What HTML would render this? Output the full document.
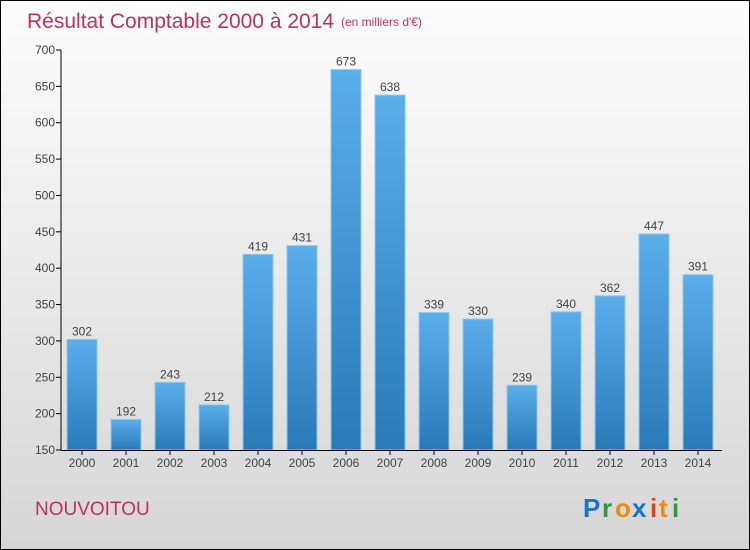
<!DOCTYPE html>
<html><head><meta charset="utf-8"><style>
body{margin:0}
#c{width:748px;height:548px;border:1px solid #000;position:relative;background:linear-gradient(#fdfdfd,#d6d6d6);font-family:"Liberation Sans",sans-serif;overflow:hidden}
</style></head><body>
<div id="c">
<svg width="748" height="548" id="svg">
<defs><linearGradient id="bg" x1="0" x2="0" y1="0" y2="1"><stop offset="0" stop-color="#5aaeea"/><stop offset="1" stop-color="#2a7ab8"/></linearGradient></defs>
<text x="26" y="27" font-size="21" fill="#c0305e">Résultat Comptable 2000 à 2014</text>
<text x="340" y="25" font-size="12" fill="#c0305e">(en milliers d'€)</text>
<text x="34" y="514" font-size="19" fill="#c0305e">NOUVOITOU</text>
<g font-size="26" font-weight="bold">
<text x="582" y="516" fill="#1a73c8">P</text><text x="601" y="516" fill="#2a9a3a">r</text><text x="614" y="516" fill="#f08a10">o</text><text x="631" y="516" fill="#1a73c8">x</text><text x="649" y="516" fill="#e0401a">i</text><text x="658" y="516" fill="#f08a10">t</text><text x="671" y="516" fill="#2a9a3a">i</text>
</g>
<g id="g"></g>
</svg></div>
<script>
const years=["2000","2001","2002","2003","2004","2005","2006","2007","2008","2009","2010","2011","2012","2013","2014"];
const values=[302,192,243,212,419,431,673,638,339,330,239,340,362,447,391];
const ticks=[150,200,250,300,350,400,450,500,550,600,650,700];
const ns="http://www.w3.org/2000/svg",g=document.getElementById('g');
const y=v=>449-(v-150)*400/550, x=i=>81+i*44;
function mk(t,a,txt){const e=document.createElementNS(ns,t);for(const k in a)e.setAttribute(k,a[k]);if(txt!==undefined)e.textContent=txt;g.appendChild(e);return e;}
ticks.forEach(t=>{const e=mk('line',{x1:55,x2:60,y1:y(t),y2:y(t),stroke:'#000'});


const l=mk('text',{x:54,y:y(t)+4,'font-size':12,fill:'#444','text-anchor':'end'},t);

});
values.forEach((v,i)=>{const b=mk('rect',{x:x(i)-15,y:y(v),width:30,height:449-y(v),fill:'url(#bg)',stroke:'#8cc8f0','stroke-width':1});


const t=mk('text',{x:x(i),y:y(v)-4,'font-size':12,fill:'#444','text-anchor':'middle'},v);


const k=mk('line',{x1:x(i),x2:x(i),y1:449,y2:454,stroke:'#000'});


const l=mk('text',{x:x(i),y:466,'font-size':12,fill:'#444','text-anchor':'middle'},years[i]);

});
const ax=mk('line',{x1:60,x2:60,y1:y(700),y2:449,stroke:'#000'});


const bx=mk('line',{x1:60,x2:721,y1:449.5,y2:449.5,stroke:'#000'});


</script></body></html>
